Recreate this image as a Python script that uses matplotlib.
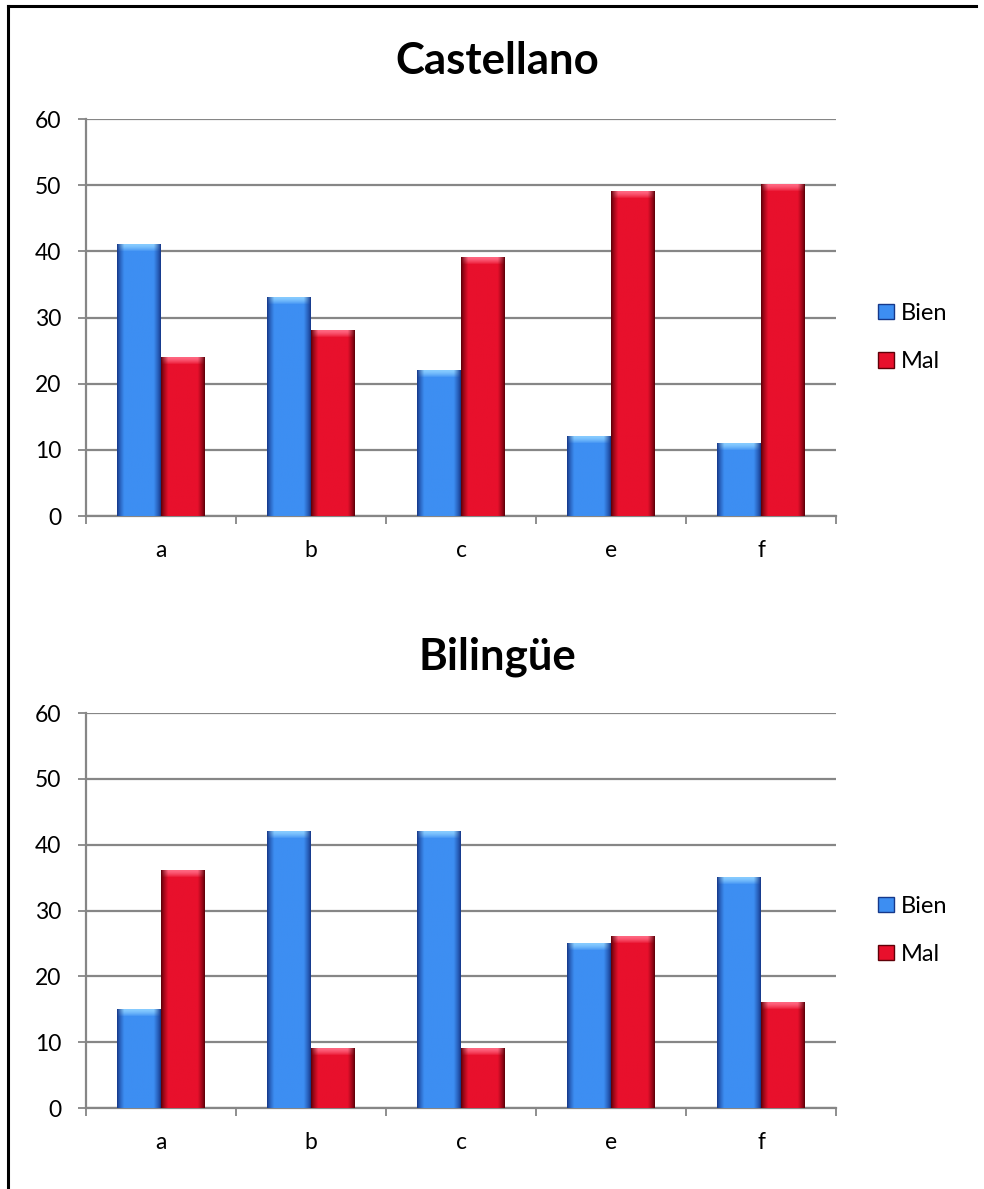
import numpy as np
import matplotlib
matplotlib.use("Agg")
import matplotlib.pyplot as plt
from matplotlib.colors import to_rgb
from matplotlib.lines import Line2D
from matplotlib.patches import Patch

categorias = ["a", "b", "c", "e", "f"]
castellano_bien = [41, 33, 22, 12, 11]
castellano_mal = [24, 28, 39, 49, 50]
bilingue_bien = [15, 42, 42, 25, 35]
bilingue_mal = [36, 9, 9, 26, 16]

AZUL = ("#3d8ef2", "#16388a", "#86cbff")
ROJO = ("#e8102c", "#5e0008", "#ff6680")
GRIS = "#868686"

plt.rcParams["font.family"] = ["Lato", "DejaVu Sans"]


def perfil(claro, oscuro, n=64):
    t = np.linspace(0, 1, n)
    peso = np.clip(np.minimum(t, 1 - t) / 0.16, 0, 1) ** 0.8
    c1, c2 = np.array(to_rgb(oscuro)), np.array(to_rgb(claro))
    return c1 + (c2 - c1) * peso[:, None]


def sombrear_barra(ax, barra, colores):
    claro, oscuro, tapa = colores
    x, y = barra.get_x(), barra.get_y()
    w, h = barra.get_width(), barra.get_height()
    cuerpo = np.tile(perfil(claro, oscuro)[None, :, :], (2, 1, 1))
    ax.imshow(cuerpo, extent=[x, x + w, y, y + h], aspect="auto",
              zorder=3, interpolation="bilinear")
    # tapa superior más clara, fundida hacia el cuerpo
    alto_tapa = 1.1
    arriba = perfil(tapa, oscuro)
    abajo = perfil(claro, oscuro)
    filas = (np.linspace(0, 1, 8) ** 1.5)[:, None, None]
    cap = arriba[None, :, :] * (1 - filas) + abajo[None, :, :] * filas
    ax.imshow(cap, extent=[x, x + w, y + h - alto_tapa, y + h], aspect="auto",
              zorder=4, interpolation="bilinear")
    barra.set_visible(False)


def dibujar(ax, titulo, bien, mal, y_titulo):
    x = np.arange(len(categorias))
    ancho = 0.293
    b1 = ax.bar(x - ancho / 2, bien, ancho, color=AZUL[0], label="Bien")
    b2 = ax.bar(x + ancho / 2, mal, ancho, color=ROJO[0], label="Mal")
    for barra in b1:
        sombrear_barra(ax, barra, AZUL)
    for barra in b2:
        sombrear_barra(ax, barra, ROJO)

    ax.set_xlim(-0.5, len(categorias) - 0.5)
    ax.set_ylim(0, 60)
    ax.set_yticks(range(0, 61, 10))
    ax.set_xticks(x)
    ax.set_xticklabels(categorias)
    ax.set_xticks(np.arange(-0.5, len(categorias)), minor=True)
    ax.yaxis.grid(True, color=GRIS, linewidth=1.6, zorder=0)
    ax.set_axisbelow(True)
    for lado in ("top", "right"):
        ax.spines[lado].set_visible(False)
    for lado in ("left", "bottom"):
        ax.spines[lado].set_color(GRIS)
        ax.spines[lado].set_linewidth(1.6)
    ax.tick_params(axis="y", length=6, width=1.3, color=GRIS, pad=12,
                   labelsize=16.5, labelcolor="black")
    ax.tick_params(axis="x", which="major", length=0, pad=17, labelsize=16.5)
    ax.tick_params(axis="x", which="minor", length=6, width=1.3, color=GRIS)

    manejadores = [Patch(facecolor=AZUL[0], edgecolor=AZUL[1], label="Bien"),
                   Patch(facecolor=ROJO[0], edgecolor=ROJO[1], label="Mal")]
    ax.legend(handles=manejadores, loc="center left", bbox_to_anchor=(1.028, 0.45),
              frameon=False, fontsize=17, handlelength=0.65, handleheight=0.65,
              handletextpad=0.3, labelspacing=1.15)
    ax.figure.text(0.505, y_titulo, titulo, ha="center", va="center",
                   fontsize=31.5, fontweight="bold")


fig = plt.figure(figsize=(9.84, 11.89), dpi=100)
ax1 = fig.add_axes([0.0874, 0.566, 0.7622, 0.3339])
ax2 = fig.add_axes([0.0874, 0.0681, 0.7622, 0.3322])
dibujar(ax1, "Castellano", castellano_bien, castellano_mal, 0.949)
dibujar(ax2, "Bilingüe", bilingue_bien, bilingue_mal, 0.448)

# marco exterior
fig.add_artist(Line2D([0.0081, 0.0081], [0.0, 0.995], color="black", linewidth=2.2))
fig.add_artist(Line2D([0.0081, 0.992], [0.995, 0.995], color="black", linewidth=2.2))

fig.savefig("out.png", dpi=100)
